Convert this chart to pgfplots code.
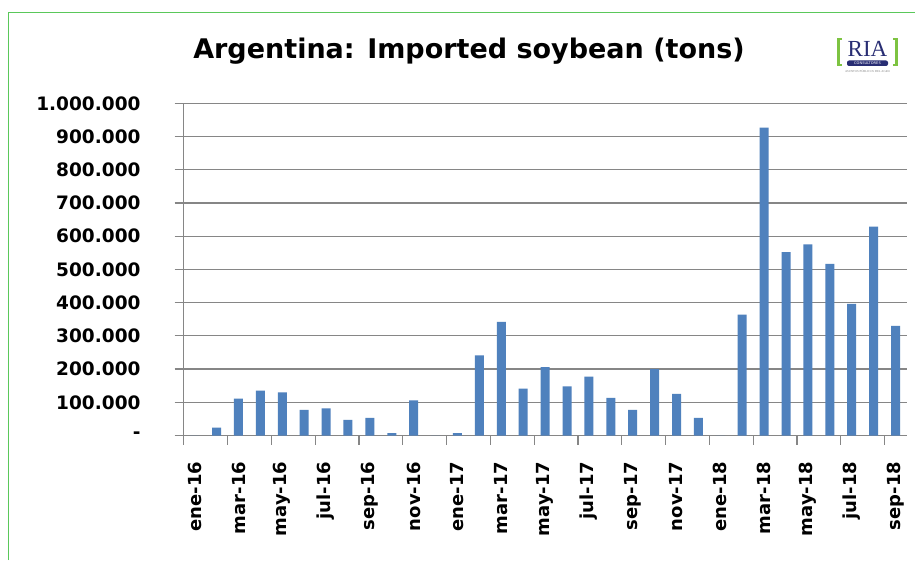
\documentclass[border=0pt]{standalone}
\usepackage{pgfplots}
\pgfplotsset{compat=1.18}
\usepackage{fontspec}
\setmainfont{DejaVu Sans}
\newfontfamily\riafont{Liberation Serif}
\definecolor{barblue}{RGB}{79,129,189}
\definecolor{gridgray}{RGB}{134,134,134}
\definecolor{framegreen}{RGB}{90,200,90}
\definecolor{riablue}{RGB}{40,45,115}
\definecolor{riagreen}{RGB}{125,195,65}
\begin{document}
\begin{tikzpicture}[x=1pt,y=1pt]
\useasboundingbox (0,0) rectangle (915,560);
\fill[white] (0,0) rectangle (915,560);
\draw[framegreen, line width=1.2pt] (8.3,0) -- (8.3,547.3) -- (915,547.3);
% title
\node at (469,509) {\bfseries\fontsize{27}{27}\selectfont Argentina: Imported soybean (tons)};
% logo
\draw[riagreen, line width=2.2pt] (842,521) -- (838.5,521) -- (838.5,495) -- (842,495);
\draw[riagreen, line width=2.2pt] (893,521) -- (896.5,521) -- (896.5,495) -- (893,495);
\node[riablue] at (867.5,511) {\riafont\fontsize{23}{23}\selectfont RIA};
\fill[riablue, rounded corners=2pt] (847,494) rectangle (888,499.5);
\node[white, inner sep=0pt] at (867.5,496.8) {\fontsize{3.6}{3.6}\selectfont CONSULTORES};
\node[gray, inner sep=0pt] at (867.5,489) {\riafont\fontsize{3}{3}\selectfont ASUNTOS PÚBLICOS DEL AGRO};
\begin{axis}[
  at={(183.7pt,124.5pt)}, anchor=south west,
  scale only axis, width=722.8pt, height=332.2pt,
  xmin=-0.5, xmax=32.5, ymin=0, ymax=1000000,
  axis lines=left,
  axis line style={gridgray, line width=1.2pt, -},
  ymajorgrids, grid style={gridgray, line width=1.2pt},
  tick align=outside, major tick length=9pt,
  tick style={gridgray, line width=1.2pt},
  xtick style={xshift=-10.95pt},
  ytick={0,100000,200000,300000,400000,500000,600000,700000,800000,900000,1000000},
  yticklabels={{-\hspace{12pt}},100.000,200.000,300.000,400.000,500.000,600.000,700.000,800.000,900.000,1.000.000},
  scaled y ticks=false,
  xtick={0,2,...,32},
  xticklabels={ene-16,mar-16,may-16,jul-16,sep-16,nov-16,ene-17,mar-17,may-17,jul-17,sep-17,nov-17,ene-18,mar-18,may-18,jul-18,sep-18},
  yticklabel style={anchor=east, inner sep=0pt, xshift=-34pt, font=\bfseries\fontsize{18.5}{18.5}\selectfont},
  xticklabel style={rotate=90, anchor=east, inner sep=0pt, xshift=-17pt, font=\bfseries\fontsize{18}{18}\selectfont},
  clip=false,
]
\addplot[ybar, bar width=9pt, fill=barblue, draw=none] coordinates {
(0,0) (1,24000) (2,111000) (3,135000) (4,130000) (5,77000) (6,82000) (7,47000)
(8,53000) (9,7000) (10,106000) (11,0) (12,7000) (13,241000) (14,342000) (15,141000)
(16,206000) (17,148000) (18,177000) (19,113000) (20,77000) (21,200000) (22,125000)
(23,53000) (24,0) (25,364000) (26,927000) (27,552000) (28,575000) (29,517000)
(30,396000) (31,629000) (32,330000)
};
\end{axis}
\end{tikzpicture}
\end{document}
